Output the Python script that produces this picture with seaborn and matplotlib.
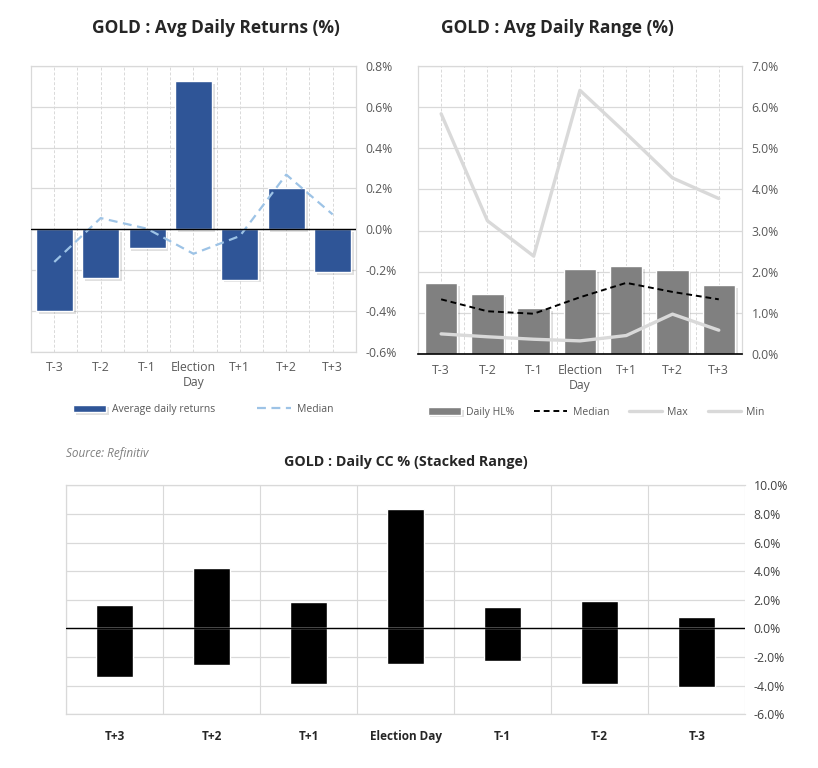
import numpy as np
import pandas as pd
import seaborn as sns
import matplotlib.pyplot as plt
import matplotlib.patheffects as pe
from matplotlib.ticker import FuncFormatter, MultipleLocator

# data
days = ["T-3", "T-2", "T-1", "Election\nDay", "T+1", "T+2", "T+3"]
avg_ret = [-0.40, -0.24, -0.094, 0.728, -0.247, 0.20, -0.21]
med_ret = [-0.16, 0.055, 0.003, -0.12, -0.033, 0.268, 0.073]

hl_pct = [1.72, 1.46, 1.11, 2.07, 2.14, 2.04, 1.67]
hl_med = [1.33, 1.04, 0.98, 1.38, 1.73, 1.51, 1.33]
hl_max = [5.84, 3.24, 2.38, 6.41, 5.36, 4.28, 3.78]
hl_min = [0.49, 0.42, 0.36, 0.32, 0.45, 0.97, 0.58]

cc_days = ["T+3", "T+2", "T+1", "Election Day", "T-1", "T-2", "T-3"]
cc_high = [1.65, 4.22, 1.86, 8.37, 1.51, 1.93, 0.80]
cc_low = [-3.37, -2.59, -3.87, -2.50, -2.31, -3.87, -4.08]

sns.set_style("white")
plt.rcParams["font.family"] = ["Open Sans", "DejaVu Sans"]

grid_c = "#d9d9d9"
txt_c = "#595959"
shadow = [pe.SimplePatchShadow(offset=(2, -2), shadow_rgbFace="#000000", alpha=0.12), pe.Normal()]

fig = plt.figure(figsize=(8.18, 7.68), dpi=100)
ax1 = fig.add_axes([0.038, 0.542, 0.397, 0.372])
ax2 = fig.add_axes([0.511, 0.539, 0.396, 0.375])
ax3 = fig.add_axes([0.081, 0.070, 0.830, 0.298])


def style_top(ax):
    ax.yaxis.tick_right()
    ax.tick_params(axis="both", length=0, labelsize=8.8, labelcolor=txt_c, pad=7)
    ax.set_xlabel("")
    ax.set_ylabel("")
    ax.set_xticks(np.arange(-0.5, len(days), 1.0), minor=True)
    ax.grid(axis="x", which="both", color=grid_c, linestyle=(0, (3, 2)), linewidth=0.7)
    ax.grid(axis="y", which="major", color=grid_c, linestyle="-", linewidth=0.9)
    ax.set_axisbelow(True)
    for s in ax.spines.values():
        s.set_color(grid_c)
        s.set_linewidth(0.9)
    ax.set_xlim(-0.5, len(days) - 0.5)


# --- top left: avg daily returns
df1 = pd.DataFrame({"day": days, "ret": avg_ret, "med": med_ret})
sns.barplot(data=df1, x="day", y="ret", color="#2F5597", saturation=1, width=0.8, ax=ax1,
            label="Average daily returns")
for p in ax1.patches:
    p.set_path_effects(shadow)
sns.lineplot(data=df1, x="day", y="med", sort=False, color="#9DC3E6", linestyle=(0, (4, 2.5)),
             linewidth=1.6, ax=ax1, label="Median")
ax1.axhline(0, color="black", linewidth=1.0, zorder=3)
ax1.set_ylim(-0.6, 0.8)
ax1.yaxis.set_major_locator(MultipleLocator(0.2))
ax1.yaxis.set_major_formatter(FuncFormatter(lambda v, p: f"{v:.1f}%"))
style_top(ax1)
h, l = ax1.get_legend_handles_labels()
order = [l.index("Average daily returns"), l.index("Median")]
ax1.legend([h[i] for i in order], [l[i] for i in order], loc="upper center",
           bbox_to_anchor=(0.53, -0.15), ncol=2, frameon=False, fontsize=7.5, labelcolor=txt_c,
           handlelength=3.2, columnspacing=4.0, handletextpad=0.6)
ax1.set_title("GOLD : Avg Daily Returns (%)", fontsize=12.5, fontweight="bold", pad=24, x=0.57)

# --- top right: avg daily range
df2 = pd.DataFrame({"day": days, "hl": hl_pct, "med": hl_med, "mx": hl_max, "mn": hl_min})
sns.barplot(data=df2, x="day", y="hl", color="#808080", saturation=1, width=0.7, ax=ax2,
            label="Daily HL%")
for p in ax2.patches:
    p.set_path_effects(shadow)
sns.lineplot(data=df2, x="day", y="med", sort=False, color="black", linestyle=(0, (3, 2)),
             linewidth=1.4, ax=ax2, label="Median")
sns.lineplot(data=df2, x="day", y="mx", sort=False, color="#d9d9d9", linewidth=2.4, ax=ax2, label="Max")
sns.lineplot(data=df2, x="day", y="mn", sort=False, color="#d9d9d9", linewidth=2.4, ax=ax2, label="Min")
ax2.set_ylim(0, 7)
ax2.yaxis.set_major_locator(MultipleLocator(1))
ax2.yaxis.set_major_formatter(FuncFormatter(lambda v, p: f"{v:.1f}%"))
style_top(ax2)
ax2.spines["bottom"].set_color("black")
ax2.spines["bottom"].set_linewidth(1.2)
h, l = ax2.get_legend_handles_labels()
order = [l.index(n) for n in ["Daily HL%", "Median", "Max", "Min"]]
ax2.legend([h[i] for i in order], [l[i] for i in order], loc="upper center",
           bbox_to_anchor=(0.55, -0.15), ncol=4, frameon=False, fontsize=7.5, labelcolor=txt_c,
           handlelength=3.2, columnspacing=1.9, handletextpad=0.5)
ax2.set_title("GOLD : Avg Daily Range (%)", fontsize=12.5, fontweight="bold", pad=24, x=0.43)

# --- bottom: daily CC stacked range
df3 = pd.DataFrame({"day": cc_days, "hi": cc_high, "lo": cc_low})
sns.barplot(data=df3, x="day", y="hi", color="black", saturation=1, width=0.38, ax=ax3)
sns.barplot(data=df3, x="day", y="lo", color="black", saturation=1, width=0.38, ax=ax3)
ax3.axhline(0, color="black", linewidth=1.0, zorder=3)
ax3.set_ylim(-6, 10)
ax3.set_xlim(-0.5, len(cc_days) - 0.5)
ax3.yaxis.set_major_locator(MultipleLocator(2))
ax3.yaxis.set_major_formatter(FuncFormatter(lambda v, p: f"{v:.1f}%"))
ax3.yaxis.tick_right()
ax3.set_xticks(np.arange(-0.5, len(cc_days), 1.0), minor=True)
ax3.grid(axis="x", which="minor", color=grid_c, linewidth=0.8)
ax3.grid(axis="y", which="major", color=grid_c, linewidth=0.9)
ax3.set_axisbelow(True)
ax3.tick_params(axis="y", which="both", length=0, labelsize=8.8, labelcolor="#404040", pad=6)
ax3.tick_params(axis="x", which="both", length=0, labelsize=8.5, pad=11)
for lab in ax3.get_xticklabels():
    lab.set_fontweight("bold")
ax3.set_xlabel("")
ax3.set_ylabel("")
for s in ax3.spines.values():
    s.set_color(grid_c)
    s.set_linewidth(0.9)
ax3.spines["right"].set_visible(False)
ax3.set_title("GOLD : Daily CC % (Stacked Range)", fontsize=10.3, fontweight="bold", pad=14)

fig.text(0.081, 0.405, "Source: Refinitiv", fontsize=8.5, style="italic", color="#7f7f7f")

fig.savefig("out.png", dpi=100, facecolor="white")
